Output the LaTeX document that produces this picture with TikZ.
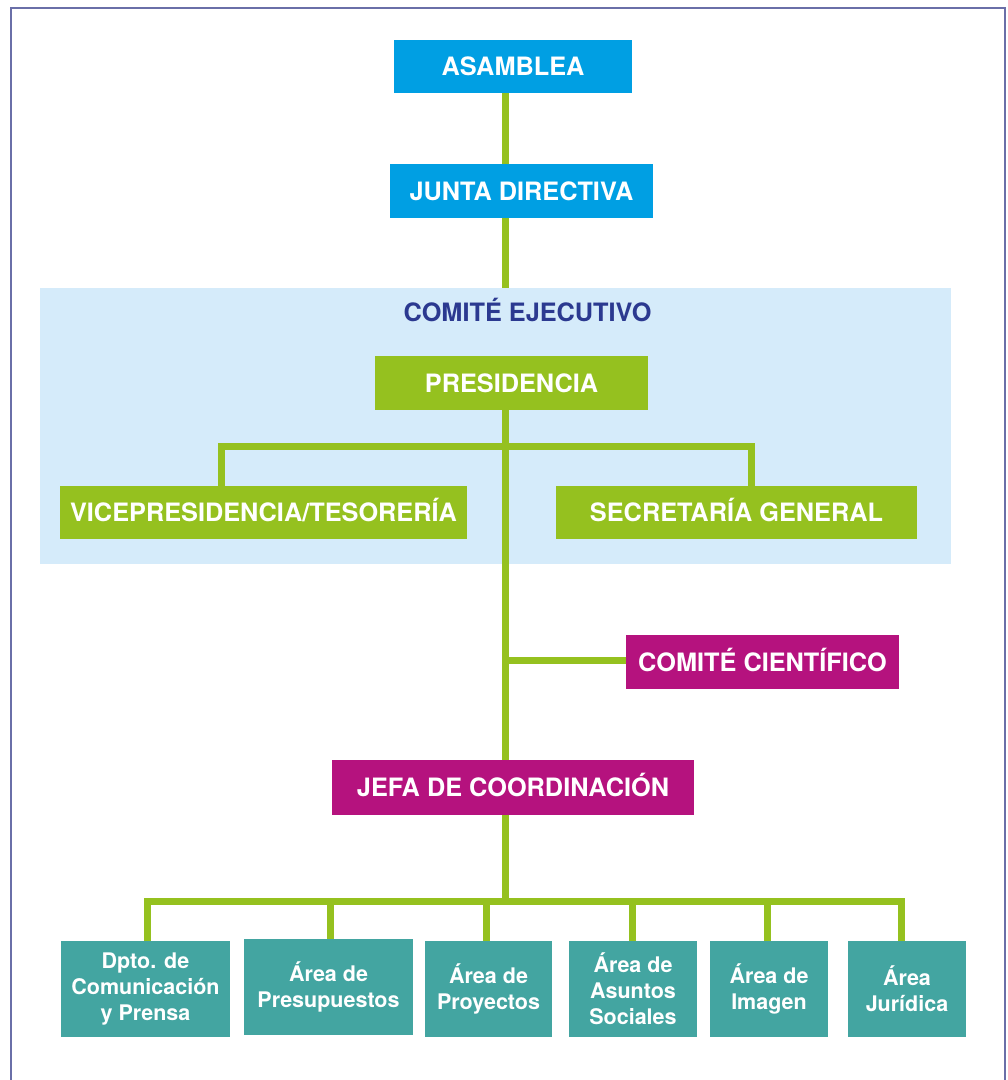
\documentclass[tikz,border=0pt]{standalone}
\usepackage{fontspec}
\setmainfont{TeX Gyre Heros}
\definecolor{cyanc}{HTML}{009FE3}
\definecolor{greenc}{HTML}{95C11F}
\definecolor{magc}{HTML}{B5127E}
\definecolor{tealc}{HTML}{43A5A1}
\definecolor{lightc}{HTML}{D5EBFA}
\definecolor{navyc}{HTML}{2B3990}
\definecolor{framec}{HTML}{6A6FA8}
\begin{document}
\begin{tikzpicture}[x=1pt,y=-1pt,
  box/.style={rectangle, inner sep=0pt, text=white,
    font=\bfseries\fontsize{25.3}{30}\selectfont,
    text height=18.2pt, text depth=0pt, minimum height=54pt},
  cyanbox/.style={box, fill=cyanc},
  greenbox/.style={box, fill=greenc},
  magbox/.style={box, fill=magc},
  areabox/.style={rectangle, inner sep=0pt, fill=tealc, text=white,
    font=\bfseries\fontsize{21.5}{26}\selectfont, align=center,
    minimum height=96pt},
  grouptitle/.style={inner sep=0pt, text=navyc,
    font=\bfseries\fontsize{25.3}{30}\selectfont, text height=18.2pt, text depth=0pt},
  conn/.style={draw=greenc, line width=7pt, line join=miter, line cap=butt},
  frame/.style={draw=framec, line width=2pt}]
\useasboundingbox (0,0) rectangle (1008,1080);
\draw[frame] (11,1082) -- (11,8) -- (1004.5,8) -- (1004.5,1082);

% group background
\node[fill=lightc, inner sep=0pt, minimum width=911pt, minimum height=276pt] (comite) at (495.5,426) {};
\node[grouptitle] (cetitle) at (527.5,312) {COMITÉ EJECUTIVO};

% boxes
\node[cyanbox, minimum width=238pt, minimum height=53pt] (asamblea) at (513,66.5) {ASAMBLEA};
\node[cyanbox, minimum width=263pt] (junta) at (521.5,191) {JUNTA DIRECTIVA};
\node[greenbox, minimum width=273pt] (pres) at (511.5,383) {PRESIDENCIA};
\node[greenbox, minimum width=407pt, minimum height=53pt] (vice) at (263.5,512.5) {VICEPRESIDENCIA/TESORERÍA};
\node[greenbox, minimum width=361pt, minimum height=53pt] (sec) at (736.5,512.5) {SECRETARÍA GENERAL};
\node[magbox, minimum width=273pt] (cient) at (762.5,662) {COMITÉ CIENTÍFICO};
\node[magbox, minimum width=362pt, minimum height=55pt] (jefa) at (513,787.5) {JEFA DE COORDINACIÓN};

\node[areabox, minimum width=169pt] (dpto) at (145.5,989) {Dpto. de\\Comunicación\\y Prensa};
\node[areabox, minimum width=169pt] (presup) at (328.5,987) {Área de\\Presupuestos};
\node[areabox, minimum width=127pt] (proy) at (488.5,989) {Área de\\Proyectos};
\node[areabox, minimum width=128pt] (asun) at (633,989) {Área de\\Asuntos\\Sociales};
\node[areabox, minimum width=118pt] (imag) at (769,989) {Área de\\Imagen};
\node[areabox, minimum width=118pt] (jur) at (907,989) {Área\\Jurídica};

% connectors
\coordinate (sp) at (505.5,0);
\coordinate (bus) at (0,901.5);
\coordinate (vx) at (221.5,446.5);
\coordinate (sx) at (751,446.5);
\coordinate (b1) at (147.5,901.5);
\coordinate (b6) at (901,901.5);
\coordinate (cb) at (0,660);

\draw[conn] (asamblea.south -| sp) -- (junta.north -| sp);
\draw[conn] (junta.south -| sp) -- (comite.north -| sp);
\draw[conn] (pres.south -| sp) -- (jefa.north -| sp);
\draw[conn] (jefa.south -| sp) -- (bus -| sp);
\draw[conn] (vice.north -| vx) -- (vx) -- (sx) -- (sec.north -| sx);
\draw[conn] (sp |- cb) -- (cient.west |- cb);
\draw[conn] (dpto.north -| b1) -- (b1) -- (b6) -- (jur.north -| b6);
\draw[conn] ([xshift=1.5pt]presup.north) -- ([xshift=1.5pt]presup.north |- bus);
\draw[conn] ([xshift=-2.5pt]proy.north) -- ([xshift=-2.5pt]proy.north |- bus);
\draw[conn] ([xshift=-0.5pt]asun.north) -- ([xshift=-0.5pt]asun.north |- bus);
\draw[conn] ([xshift=-1.5pt]imag.north) -- ([xshift=-1.5pt]imag.north |- bus);
\end{tikzpicture}
\end{document}
